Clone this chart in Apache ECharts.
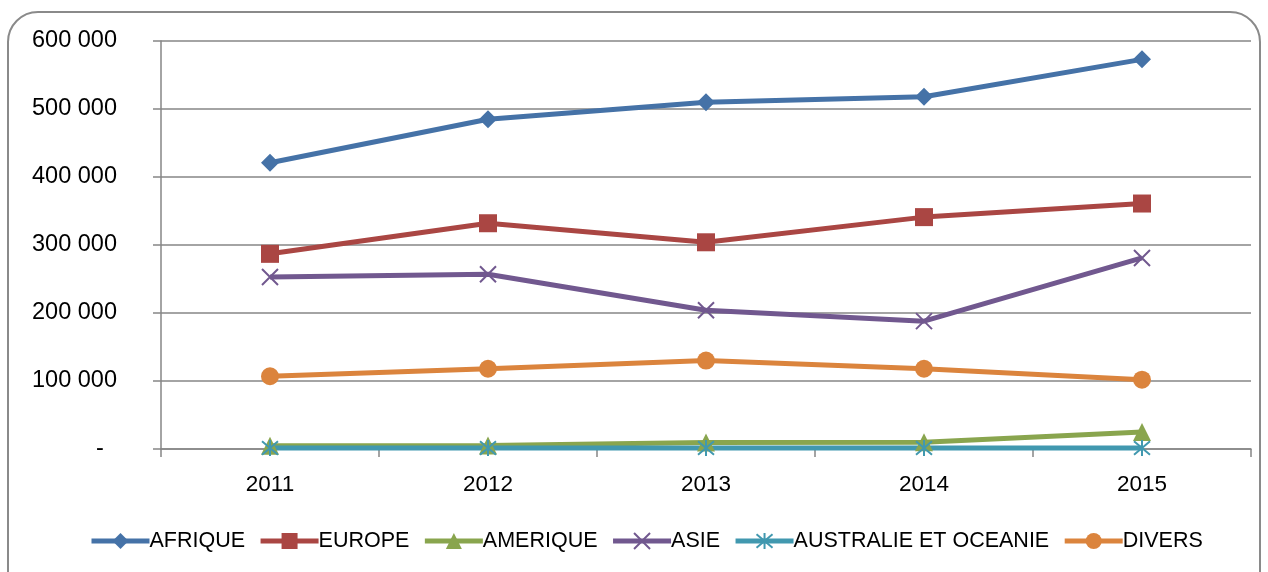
<!DOCTYPE html>
<html>
<head>
<meta charset="utf-8">
<style>
  html, body { margin: 0; padding: 0; background: #fff; }
  #chart { width: 1268px; height: 572px; }
</style>
<script src="https://cdn.jsdelivr.net/npm/echarts@6/dist/echarts.min.js"></script>
</head>
<body>
<div id="chart"></div>
<script>
const years = ['2011', '2012', '2013', '2014', '2015']
const afrique = [421000, 485000, 510000, 518000, 573000]
const europe = [287000, 332000, 304000, 341000, 361000]
const amerique = [4800, 5000, 9500, 10000, 25000]
const asie = [253000, 257000, 204000, 188000, 281000]
const australie = [1500, 1500, 1500, 1500, 1500]
const divers = [107000, 118000, 130000, 118000, 102000]

const gray = '#868686'
const font = 'Liberation Sans'

const chart = echarts.init(document.getElementById('chart'))

function fmt(v) {
  if (v === 0) return '-\u00a0\u00a0'
  return String(v).replace(/\B(?=(\d{3})+(?!\d))/g, ' ')
}

function line(name, data, color, symbol, size, extra) {
  return Object.assign({
    name,
    type: 'line',
    data,
    symbol,
    symbolSize: size,
    showAllSymbol: true,
    lineStyle: { color, width: 5 },
    itemStyle: { color },
    animation: false
  }, extra || {})
}

chart.setOption({
  graphic: [{
    type: 'rect',
    shape: { x: 8, y: 12, width: 1252, height: 620, r: 30 },
    style: { fill: 'none', stroke: '#8a8a8a', lineWidth: 2 },
    silent: true
  }],
  grid: { left: 161, right: 17, top: 41, bottom: 123 },
  legend: {
    bottom: 15,
    left: 84,
    itemWidth: 58,
    itemHeight: 20,
    itemGap: 13,
    lineStyle: { width: 5 },
    textStyle: { fontFamily: font, fontSize: 21.5, color: '#000', padding: [0, 0, 0, -5] },
    data: ['AFRIQUE', 'EUROPE', 'AMERIQUE', 'ASIE', 'AUSTRALIE ET OCEANIE', 'DIVERS']
  },
  xAxis: {
    type: 'category',
    data: years,
    boundaryGap: true,
    axisLine: { lineStyle: { color: gray, width: 1.5 } },
    axisTick: { show: true, interval: 0, length: 8, lineStyle: { color: gray, width: 1.5 } },
    axisLabel: { fontFamily: font, fontSize: 22.5, color: '#000', margin: 24 }
  },
  yAxis: {
    type: 'value',
    min: 0,
    max: 600000,
    interval: 100000,
    axisLine: { show: true, lineStyle: { color: gray, width: 1.5 } },
    axisTick: { show: true, length: 8, lineStyle: { color: gray, width: 1.5 } },
    splitLine: { lineStyle: { color: gray, width: 1.5 } },
    axisLabel: { fontFamily: font, fontSize: 23.5, color: '#000', margin: 44, formatter: fmt }
  },
  series: [
    line('AFRIQUE', afrique, '#4572A7', 'diamond', 18),
    line('EUROPE', europe, '#AA4643', 'rect', 18),
    line('AMERIQUE', amerique, '#89A54E', 'triangle', 18),
    line('ASIE', asie, '#71588F', 'path://M0,0L10,10M10,0L0,10', 16,
      { itemStyle: { color: '#71588F', borderColor: '#71588F', borderWidth: 2 } }),
    line('AUSTRALIE ET OCEANIE', australie, '#4198AF', 'path://M0,0L10,10M10,0L0,10M5,-1L5,11', 16,
      { itemStyle: { color: '#4198AF', borderColor: '#4198AF', borderWidth: 2 } }),
    line('DIVERS', divers, '#DB843D', 'circle', 18)
  ]
})
</script>
</body>
</html>
